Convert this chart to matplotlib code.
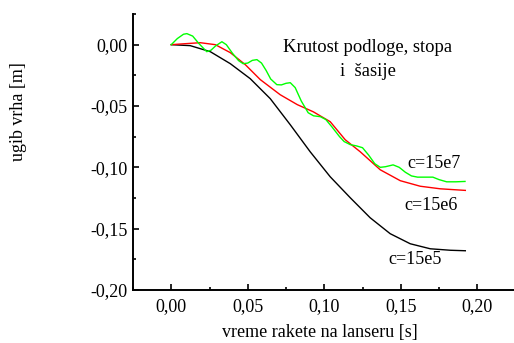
import matplotlib
matplotlib.use("Agg")
import matplotlib.pyplot as plt
from matplotlib.ticker import MultipleLocator, FuncFormatter

plt.rcParams['font.family'] = ['Liberation Serif', 'DejaVu Serif']

# c = 15e5 (black)
x_c5 = [0.000, 0.0124, 0.0255, 0.0386, 0.0516, 0.0647, 0.0778, 0.0908, 0.1039,
        0.117, 0.130, 0.1431, 0.1562, 0.1693, 0.1824, 0.1922]
y_c5 = [0.000, -0.0008, -0.0057, -0.0155, -0.0277, -0.044, -0.0653, -0.0873, -0.1077,
        -0.1248, -0.1411, -0.1541, -0.1623, -0.1664, -0.1676, -0.1680]

# c = 15e6 (red)
x_c6 = [0.000, 0.0092, 0.019, 0.0288, 0.0386, 0.0484, 0.0582, 0.0712, 0.0824, 0.0928,
        0.1039, 0.1137, 0.1235, 0.1366, 0.1497, 0.1627, 0.1758, 0.1922]
y_c6 = [0.000, 0.0008, 0.0016, 0.000, -0.0065, -0.0163, -0.0285, -0.0408, -0.0489, -0.0547,
        -0.0628, -0.0775, -0.0873, -0.102, -0.1109, -0.1154, -0.1175, -0.1188]

# c = 15e7 (green)
x_c7 = [0.000, 0.004, 0.008, 0.0102, 0.014, 0.018, 0.0232, 0.026, 0.029, 0.0331,
        0.036, 0.040, 0.044, 0.047, 0.050, 0.053, 0.056, 0.059, 0.062, 0.065, 0.069,
        0.072, 0.075, 0.0778, 0.081, 0.085, 0.0895, 0.093, 0.0974, 0.101, 0.105, 0.110,
        0.113, 0.117, 0.121, 0.125, 0.129, 0.133, 0.1366, 0.140, 0.145, 0.149,
        0.153, 0.157, 0.161, 0.166, 0.171, 0.175, 0.180, 0.186, 0.192]
y_c7 = [0.000, 0.005, 0.0085, 0.009, 0.007, 0.001, -0.0057, -0.0045, -0.001, 0.0024,
        0.000, -0.007, -0.013, -0.0155, -0.015, -0.0128, -0.0122, -0.015, -0.021, -0.028, -0.0326,
        -0.0328, -0.0315, -0.031, -0.035, -0.046, -0.0555, -0.058, -0.0587, -0.061, -0.067, -0.075,
        -0.079, -0.0815, -0.0825, -0.084, -0.090, -0.097, -0.100, -0.0995, -0.098, -0.100,
        -0.104, -0.107, -0.108, -0.108, -0.108, -0.110, -0.1118, -0.1118, -0.1115]

W, H = 514, 343
fig = plt.figure(figsize=(W / 100, H / 100), dpi=100)
L, R, T, B = 133, 514, 14, 290
ax = fig.add_axes([L / W, 1 - B / H, (R - L) / W, (B - T) / H])

ax.plot(x_c5, y_c5, color='black', lw=1.0)
ax.plot(x_c6, y_c6, color='#ff0000', lw=1.0)
ax.plot(x_c7, y_c7, color='#00ff00', lw=1.0)

ax.set_xlim(-0.025, -0.025 + (R - L) / 1530)
ax.set_ylim(-0.20, 0.025)

for s in ['top', 'right']:
    ax.spines[s].set_visible(False)
for s in ['left', 'bottom']:
    ax.spines[s].set_linewidth(1.4)

ax.xaxis.set_major_locator(MultipleLocator(0.05))
ax.xaxis.set_minor_locator(MultipleLocator(0.025))
ax.yaxis.set_major_locator(MultipleLocator(0.05))
ax.yaxis.set_minor_locator(MultipleLocator(0.025))
fmt = FuncFormatter(lambda v, p: ("%.2f" % v).replace('.', ','))
ax.xaxis.set_major_formatter(fmt)
ax.yaxis.set_major_formatter(fmt)
ax.tick_params(which='both', direction='in', width=1.2, labelsize=13)
ax.tick_params(which='major', length=4.5)
ax.tick_params(which='minor', length=2.5)
ax.tick_params(axis='y', pad=4)
ax.tick_params(axis='x', pad=6)

def ft(px, py, s, size=13, **kw):
    fig.text(px / W, 1 - py / H, s, fontsize=size, **kw)

ft(19, 112, 'ugib vrha [m]', rotation=90, ha='center', va='center')
ft(320, 333, 'vreme rakete na lanseru [s]', ha='center', va='center')
ft(368, 48, 'Krutost podloge, stopa', size=13.4, ha='center', va='center')
ft(368, 71, 'i  šasije', size=13.4, ha='center', va='center')
ft(407, 164, 'c=15e7', ha='left', va='center')
ft(404, 205, 'c=15e6', ha='left', va='center')
ft(388, 260, 'c=15e5', ha='left', va='center')

fig.savefig('out.png', dpi=100)
